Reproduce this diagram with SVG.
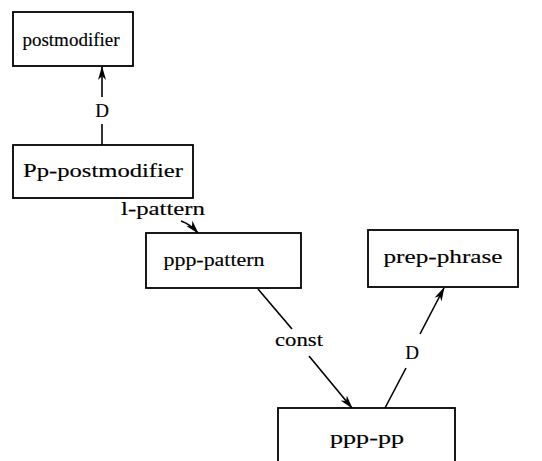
<svg xmlns="http://www.w3.org/2000/svg" width="542" height="461" viewBox="0 0 542 461">
  <style>
    .box { fill: #fff; stroke: #000; stroke-width: 1.8; }
    .lbl { font-family: "Liberation Serif", "DejaVu Serif", serif; font-size: 19px; fill: #000; text-anchor: middle; stroke: #000; stroke-width: 0.15; }
    .edge { stroke: #000; stroke-width: 1.6; fill: none; }
  </style>
  <defs>
    <marker id="arrow" viewBox="0 0 14 10" refX="13" refY="5" markerWidth="14" markerHeight="10" markerUnits="userSpaceOnUse" orient="auto">
      <path d="M0,1 L14,5 L0,9 L4,5 Z" fill="#000"/>
    </marker>
  </defs>
  <rect width="542" height="461" fill="#fff"/>

  <g id="connectors">
    <!-- Pp-postmodifier to postmodifier (D) -->
    <line class="edge" x1="102" y1="145" x2="102" y2="124"/>
    <line class="edge" x1="102" y1="97" x2="102" y2="67" marker-end="url(#arrow)"/>
    <text class="lbl" x="102" y="117">D</text>
    <!-- Pp-postmodifier to ppp-pattern (l-pattern) -->
    <text class="lbl" x="163" y="215" textLength="84" lengthAdjust="spacingAndGlyphs">l-pattern</text>
    <path class="edge" d="M181,221 Q190,224 198,233" marker-end="url(#arrow)"/>
    <!-- ppp-pattern to ppp-pp (const) -->
    <line class="edge" x1="258" y1="289" x2="292" y2="329"/>
    <line class="edge" x1="309" y1="356" x2="352" y2="408" marker-end="url(#arrow)"/>
    <text class="lbl" x="299" y="346" textLength="48" lengthAdjust="spacingAndGlyphs">const</text>
    <!-- ppp-pp to prep-phrase (D) -->
    <line class="edge" x1="385" y1="408" x2="406" y2="368"/>
    <line class="edge" x1="420" y1="334" x2="444" y2="288" marker-end="url(#arrow)"/>
    <text class="lbl" x="412" y="359">D</text>
  </g>

  <g id="postmodifier">
    <rect class="box" x="13" y="12" width="120" height="54"/>
    <text class="lbl" x="71" y="46">postmodifier</text>
  </g>
  <g id="pp-postmodifier">
    <rect class="box" x="13" y="145" width="180" height="53"/>
    <text class="lbl" x="103" y="177" textLength="160" lengthAdjust="spacingAndGlyphs">Pp-postmodifier</text>
  </g>
  <g id="ppp-pattern">
    <rect class="box" x="146" y="233" width="155" height="55"/>
    <text class="lbl" x="214" y="266" textLength="101" lengthAdjust="spacingAndGlyphs">ppp-pattern</text>
  </g>
  <g id="prep-phrase">
    <rect class="box" x="368" y="230" width="150" height="57"/>
    <text class="lbl" x="443" y="263" textLength="119" lengthAdjust="spacingAndGlyphs">prep-phrase</text>
  </g>
  <g id="ppp-pp">
    <rect class="box" x="278" y="408" width="177" height="60"/>
    <text class="lbl" x="367" y="444" textLength="74" lengthAdjust="spacingAndGlyphs">ppp-pp</text>
  </g>
</svg>
